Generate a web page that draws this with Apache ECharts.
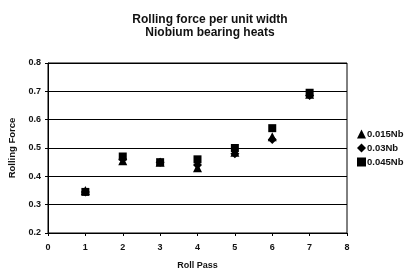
<!DOCTYPE html>
<html>
<head>
<meta charset="utf-8">
<script src="https://cdn.jsdelivr.net/npm/echarts@6/dist/echarts.min.js"></script>
<style>
  html, body { margin: 0; padding: 0; background: #fff; }
  #chart { width: 406px; height: 270px; }
</style>
</head>
<body>
<div id="chart"></div>
<script>
// roll pass numbers
const passes = [1, 2, 3, 4, 5, 6, 7];

// rolling force per unit width for each Nb content
const nb015 = [0.35, 0.455, 0.45, 0.43, 0.485, 0.54, 0.69];
const nb030 = [0.345, 0.46, 0.45, 0.44, 0.48, 0.53, 0.685];
const nb045 = [0.345, 0.47, 0.45, 0.46, 0.50, 0.57, 0.695];

const seriesNames = ['0.015Nb', '0.03Nb', '0.045Nb'];
const seriesSymbols = ['triangle', 'diamond', 'rect'];
const seriesValues = [nb015, nb030, nb045];

const chart = echarts.init(document.getElementById('chart'));

const font = 'Liberation Sans, Arial, sans-serif';

const series = seriesValues.map((vals, i) => ({
    name: seriesNames[i],
    type: 'scatter',
    symbol: seriesSymbols[i],
    symbolSize: seriesSymbols[i] === 'rect' ? 8 : 9,
    itemStyle: { color: '#000', opacity: 1 },
    data: passes.map((p, j) => [p, vals[j]])
}));

chart.setOption({
    animation: false,
    backgroundColor: '#fff',
    textStyle: { fontFamily: font },
    title: {
        text: 'Rolling force per unit width\nNiobium bearing heats',
        left: 205,
        textAlign: 'center',
        top: 8,
        textStyle: {
            fontSize: 12,
            fontWeight: 'bold',
            color: '#111',
            lineHeight: 13,
            fontFamily: font
        }
    },
    legend: {
        orient: 'vertical',
        left: 352,
        top: 124,
        itemWidth: 9,
        itemHeight: 9,
        itemGap: 4,
        data: seriesNames.map((n, i) => ({ name: n, icon: seriesSymbols[i] })),
        textStyle: { fontSize: 9.5, fontWeight: 'bold', color: '#111', padding: [0, 0, 0, -4] }
    },
    grid: {
        left: 48,
        right: 59,
        top: 63,
        bottom: 37,
        outerBoundsMode: 'none',
        show: true,
        borderColor: '#000',
        borderWidth: 1
    },
    xAxis: {
        type: 'value',
        min: 0,
        max: 8,
        interval: 1,
        name: 'Roll Pass',
        nameLocation: 'middle',
        nameGap: 28,
        nameTextStyle: { fontSize: 9, fontWeight: 'bold', color: '#111' },
        axisLine: { lineStyle: { color: '#000', width: 1 } },
        axisTick: { show: true, length: 3, lineStyle: { color: '#000' } },
        axisLabel: { fontSize: 9, fontWeight: 'bold', color: '#111', margin: 10 },
        splitLine: { show: false }
    },
    yAxis: {
        type: 'value',
        min: 0.2,
        max: 0.8,
        interval: 0.1,
        name: 'Rolling Force',
        nameLocation: 'middle',
        nameGap: 28,
        nameTextStyle: { fontSize: 9.5, fontWeight: 'bold', color: '#111' },
        axisLine: { show: true, lineStyle: { color: '#000', width: 1 } },
        axisTick: { show: true, length: 3, lineStyle: { color: '#000' } },
        axisLabel: {
            fontSize: 9, fontWeight: 'bold', color: '#111', margin: 7,
            formatter: v => v.toFixed(1)
        },
        splitLine: { show: true, lineStyle: { color: '#000', width: 1 } }
    },
    series: series
});
</script>
</body>
</html>
